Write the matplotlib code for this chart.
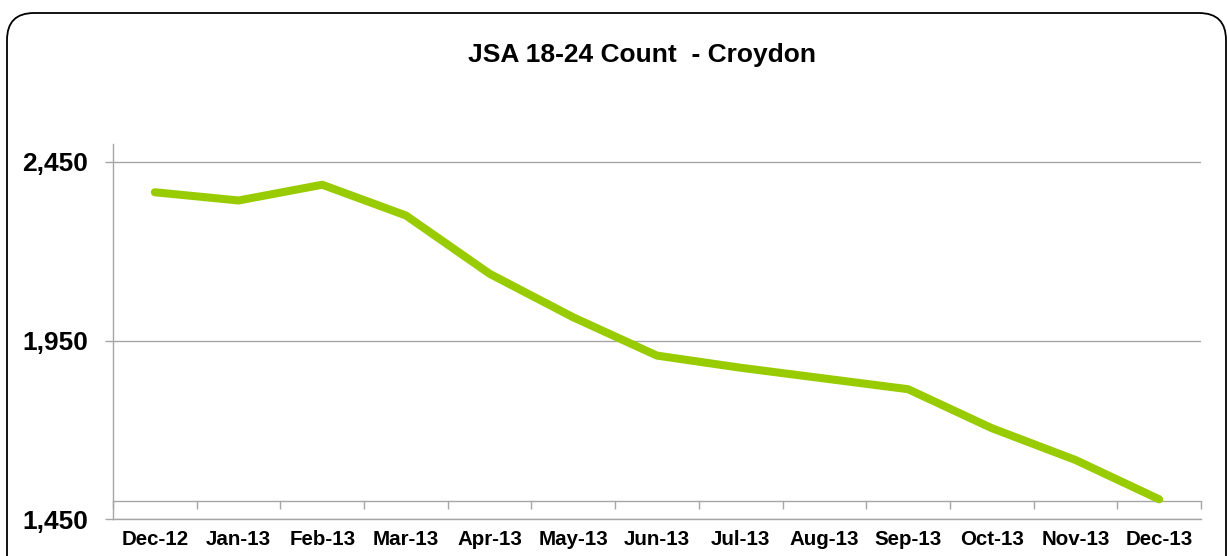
import matplotlib
matplotlib.use("Agg")
import matplotlib.pyplot as plt
from matplotlib.patches import FancyBboxPatch

# JSA 18-24 claimant count, Croydon
months = ["Dec-12", "Jan-13", "Feb-13", "Mar-13", "Apr-13", "May-13", "Jun-13",
          "Jul-13", "Aug-13", "Sep-13", "Oct-13", "Nov-13", "Dec-13"]
counts = [2365, 2342, 2386, 2300, 2137, 2015, 1908,
          1874, 1844, 1814, 1705, 1616, 1506]
y_ticks = [1450, 1950, 2450]
y_labels = ["1,450", "1,950", "2,450"]


def main():
    plt.rcParams['font.family'] = ['Liberation Sans', 'DejaVu Sans']
    grey = "#a6a6a6"

    fig = plt.figure(figsize=(12.27, 5.56), dpi=100)

    # rounded chart frame, bottom edge runs off the picture
    frame = FancyBboxPatch((0.07, -0.5), 12.19, 5.93,
                           boxstyle="round,pad=0,rounding_size=0.27",
                           transform=fig.dpi_scale_trans,
                           facecolor="none", edgecolor="black", linewidth=1.3,
                           zorder=-1)
    fig.patches.append(frame)

    ax = fig.add_axes([0.0921, 0.066, 0.8867, 0.675])
    ax.set_facecolor("none")

    x = list(range(len(months)))
    ax.plot(x, counts, color="#99cc00", linewidth=5.8,
            solid_capstyle="round", solid_joinstyle="round", zorder=3)

    ax.set_xlim(-0.5, len(months) - 0.5)
    ax.set_ylim(1450, 2500)
    ax.set_yticks(y_ticks)
    ax.set_yticklabels(y_labels, fontsize=19, fontweight="bold")
    ax.set_xticks(x)
    ax.set_xticklabels(months, fontsize=14.8, fontweight="bold")

    ax.tick_params(axis="y", length=6, width=1, color=grey, pad=12)
    ax.tick_params(axis="x", length=0, pad=8)
    ax.yaxis.grid(True, color=grey, linewidth=1)
    ax.set_axisbelow(True)

    for side in ["top", "right"]:
        ax.spines[side].set_visible(False)
    for side in ["left", "bottom"]:
        ax.spines[side].set_color(grey)
        ax.spines[side].set_linewidth(1)

    # category axis crosses at 1,500 with ticks between categories
    cross = (1500 - 1450) / (2500 - 1450)
    cat = ax.secondary_xaxis(cross)
    cat.set_xticks([i - 0.5 for i in range(len(months) + 1)])
    cat.set_xticklabels([])
    cat.tick_params(axis="x", direction="out", length=6, width=1, color=grey)
    cat.spines["bottom"].set_color(grey)
    cat.spines["bottom"].set_linewidth(1)

    fig.text(0.523, 0.901, "JSA 18-24 Count  - Croydon", ha="center",
             va="center", fontsize=19, fontweight="bold")

    fig.savefig("out.png", dpi=100)


if __name__ == '__main__':
    main()
